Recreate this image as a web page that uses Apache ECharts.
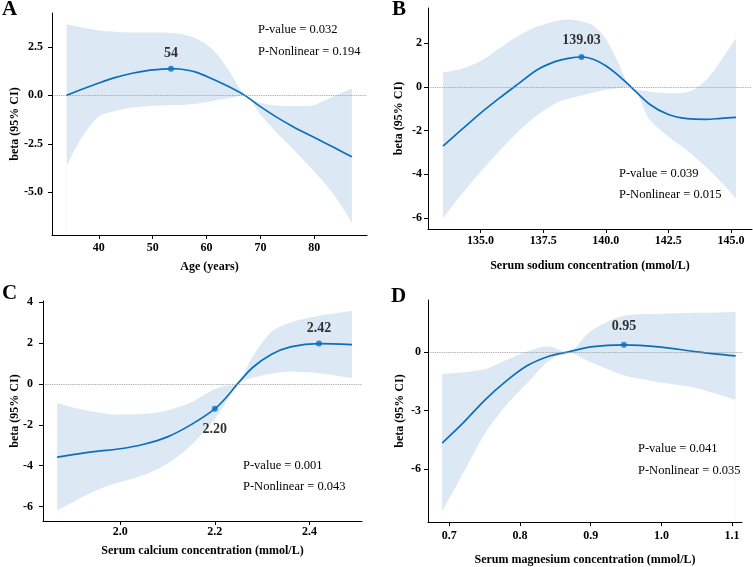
<!DOCTYPE html>
<html><head><meta charset="utf-8">
<script src="https://cdn.jsdelivr.net/npm/echarts@6/dist/echarts.min.js"></script>
<style>html,body{margin:0;padding:0;background:#fff}#c{width:753px;height:567px}</style>
</head><body><div id="c"></div>
<script>
// ---- Panel A: Age ----
const ageX   = [34, 37, 40, 43, 46, 49, 52, 53.4, 55, 58, 61, 64, 67.1, 70, 73, 76, 79, 82, 85, 87];
const ageFit = [0, 0.33, 0.64, 0.92, 1.13, 1.28, 1.36, 1.38, 1.36, 1.2, 0.86, 0.47, 0, -0.58, -1.12, -1.6, -2.03, -2.45, -2.88, -3.17];
const ageLow = [-3.66, -2.1, -1.1, -0.81, -0.64, -0.56, -0.52, -0.5, -0.49, -0.43, -0.3, -0.15, 0, -0.99, -1.91, -2.75, -3.63, -4.55, -5.68, -6.59];
const ageUp  = [3.67, 3.5, 3.35, 3.28, 3.24, 3.24, 3.24, 3.22, 3.18, 2.95, 2.4, 1.35, 0, -0.38, -0.52, -0.56, -0.55, -0.25, 0.12, 0.35];
const ageMarkX = [53.4], ageMarkY = [1.38], ageMarkLabel = ['54'];
const ageXTicks = [40, 50, 60, 70, 80];
const ageYTicks = [-5, -2.5, 0, 2.5];

// ---- Panel B: Sodium ----
const naX   = [133.5, 134.25, 135, 135.75, 136.5, 137.25, 138, 138.5, 139.03, 139.5, 140, 140.5, 141.0, 141.75, 142.5, 143.25, 144, 144.6, 145.2];
const naFit = [-2.71, -1.95, -1.2, -0.52, 0.13, 0.77, 1.16, 1.3, 1.36, 1.26, 0.96, 0.52, 0, -0.8, -1.27, -1.46, -1.49, -1.44, -1.40];
const naLow = [-6.01, -4.9, -3.88, -2.93, -2.05, -1.3, -0.75, -0.55, -0.4, -0.26, -0.15, -0.07, 0, -1.5, -2.27, -2.91, -3.65, -4.34, -5.1];
const naUp  = [0.64, 0.82, 1.18, 1.75, 2.32, 2.75, 3.0, 3.08, 3.0, 2.8, 2.2, 1.1, 0, -0.22, -0.3, -0.25, 0.3, 1.2, 2.21];
const naMarkX = [139.03], naMarkY = [1.36], naMarkLabel = ['139.03'];
const naXTicks = [135, 137.5, 140, 142.5, 145];
const naYTicks = [-6, -4, -2, 0, 2];

// ---- Panel C: Calcium ----
const caX   = [1.867, 1.9, 1.95, 2.0, 2.05, 2.1, 2.15, 2.2, 2.225, 2.248, 2.28, 2.32, 2.36, 2.42, 2.49];
const caFit = [-3.58, -3.46, -3.3, -3.17, -2.95, -2.59, -1.99, -1.22, -0.64, 0, 0.8, 1.45, 1.81, 1.97, 1.92];
const caLow = [-6.18, -5.78, -5.2, -4.8, -4.45, -3.9, -3.0, -1.7, -0.85, 0, 0.3, 0.5, 0.6, 0.52, 0.28];
const caUp  = [-0.94, -1.15, -1.38, -1.5, -1.47, -1.3, -0.9, -0.25, -0.08, 0, 1.35, 2.55, 3.0, 3.33, 3.56];
const caMarkX = [2.2, 2.42], caMarkY = [-1.22, 1.97], caMarkLabel = ['2.20', '2.42'];
const caXTicks = [2.0, 2.2, 2.4];
const caYTicks = [-6, -4, -2, 0, 2, 4];

// ---- Panel D: Magnesium ----
const mgX   = [0.69, 0.72, 0.75, 0.78, 0.81, 0.84, 0.867, 0.9, 0.947, 1.0, 1.05, 1.105];
const mgFit = [-4.67, -3.62, -2.47, -1.5, -0.7, -0.22, 0, 0.27, 0.38, 0.26, 0.02, -0.19];
const mgLow = [-8.17, -6.21, -4.2, -2.75, -1.6, -0.48, 0, -0.52, -1.18, -1.56, -1.85, -2.45];
const mgUp  = [-1.11, -1.03, -0.88, -0.42, 0.03, 0.3, 0, 1.08, 1.87, 1.97, 2.02, 2.07];
const mgMarkX = [0.947], mgMarkY = [0.38], mgMarkLabel = ['0.95'];
const mgXTicks = [0.7, 0.8, 0.9, 1.0, 1.1];
const mgYTicks = [-6, -3, 0];

const panelLetters = ['A', 'B', 'C', 'D'];
const xNames = ['Age (years)', 'Serum sodium concentration (mmol/L)', 'Serum calcium concentration (mmol/L)', 'Serum magnesium concentration (mmol/L)'];
const yName = 'beta (95% CI)';
const pValues = ['P-value = 0.032', 'P-value = 0.039', 'P-value = 0.001', 'P-value = 0.041'];
const pNonlin = ['P-Nonlinear = 0.194', 'P-Nonlinear = 0.015', 'P-Nonlinear = 0.043', 'P-Nonlinear = 0.035'];

const FONT = '"Liberation Serif","Times New Roman",serif';
const LINE = '#0c6fba';
const BAND = '#dce9f5';
const SMOOTH = 0.3;

const data = [
  {x: ageX, fit: ageFit, low: ageLow, up: ageUp, mx: ageMarkX, my: ageMarkY, ml: ageMarkLabel, xt: ageXTicks, yt: ageYTicks, xd: 0, yd: 1},
  {x: naX, fit: naFit, low: naLow, up: naUp, mx: naMarkX, my: naMarkY, ml: naMarkLabel, xt: naXTicks, yt: naYTicks, xd: 1, yd: 0},
  {x: caX, fit: caFit, low: caLow, up: caUp, mx: caMarkX, my: caMarkY, ml: caMarkLabel, xt: caXTicks, yt: caYTicks, xd: 1, yd: 0},
  {x: mgX, fit: mgFit, low: mgLow, up: mgUp, mx: mgMarkX, my: mgMarkY, ml: mgMarkLabel, xt: mgXTicks, yt: mgYTicks, xd: 1, yd: 0}
];

// layout (pixels / styles)
const layout = [
  {grid: {left: 52, top: 13, width: 315, height: 222}, xr: [31.3, 89.8], yr: [-7.2, 4.25], xm: 7, xg: 26, ym: 9, yg: 31,
   letter: [2, 10], ptxt: [258, 29.5, 51.5], labelPos: ['top'], labelDist: [5]},
  {grid: {left: 428, top: 8, width: 324, height: 221}, xr: [132.9, 145.84], yr: [-6.5, 3.6], xm: 5.5, xg: 31, ym: 6, yg: 23,
   letter: [392, 10], ptxt: [619, 173.5, 195], labelPos: ['top'], labelDist: [7]},
  {grid: {left: 43, top: 301, width: 319, height: 220}, xr: [1.837, 2.511], yr: [-6.7, 4.05], xm: 5, xg: 24, ym: 10, yg: 22,
   letter: [2, 294], ptxt: [243, 465.5, 487], labelPos: ['bottom', 'top'], labelDist: [11, 5]},
  {grid: {left: 428, top: 300, width: 314, height: 222}, xr: [0.670, 1.114], yr: [-8.72, 2.68], xm: 8, xg: 32, ym: 7, yg: 22,
   letter: [391, 297], ptxt: [638, 449, 471], labelPos: ['top'], labelDist: [8]}
];

const grids = [], xAxes = [], yAxes = [], series = [], graphics = [];

data.forEach((d, i) => {
  const L = layout[i];
  grids.push(Object.assign({containLabel: false, outerBoundsMode: 'none'}, L.grid));
  const axisCommon = {
    gridIndex: i, type: 'value', splitLine: {show: false}, z: 10,
    axisLine: {show: true, onZero: false, lineStyle: {color: '#000', width: 1}},
    nameLocation: 'middle', nameMoveOverlap: false,
    nameTextStyle: {fontFamily: FONT, fontWeight: 'bold', fontSize: 12, color: '#000'}
  };
  xAxes.push(Object.assign({}, axisCommon, {
    min: L.xr[0], max: L.xr[1], name: xNames[i], nameGap: L.xg,
    axisTick: {show: true, length: 4, inside: false, customValues: d.xt, lineStyle: {color: '#000'}},
    axisLabel: {customValues: d.xt, margin: L.xm, fontFamily: FONT, fontWeight: 'bold', fontSize: 12, color: '#000',
      formatter: v => Number(v).toFixed(d.xd)}
  }));
  yAxes.push(Object.assign({}, axisCommon, {
    min: L.yr[0], max: L.yr[1], name: yName, nameGap: L.yg,
    axisTick: {show: true, length: 4, inside: false, customValues: d.yt, lineStyle: {color: '#000'}},
    axisLabel: {customValues: d.yt, margin: L.ym, fontFamily: FONT, fontWeight: 'bold', fontSize: 12, color: '#000',
      formatter: v => Number(v).toFixed(d.yd)}
  }));
  // confidence band: upper area in band colour, lower area masked in white
  series.push({
    type: 'line', xAxisIndex: i, yAxisIndex: i, symbol: 'none', smooth: SMOOTH,
    lineStyle: {width: 0, opacity: 0}, areaStyle: {color: BAND, opacity: 1, origin: 'start'}, silent: true, z: 1,
    data: d.x.map((x, k) => [x, d.up[k]])
  });
  series.push({
    type: 'line', xAxisIndex: i, yAxisIndex: i, symbol: 'none', smooth: SMOOTH,
    lineStyle: {width: 0, opacity: 0}, areaStyle: {color: '#ffffff', opacity: 1, origin: 'start'}, silent: true, z: 1,
    data: d.x.map((x, k) => [x, d.low[k]])
  });
  series.push({
    type: 'line', xAxisIndex: i, yAxisIndex: i, symbol: 'none', smooth: SMOOTH, z: 3,
    lineStyle: {color: LINE, width: 1.7},
    data: d.x.map((x, k) => [x, d.fit[k]]),
    markLine: {silent: true, symbol: 'none', label: {show: false},
      lineStyle: {color: '#9a9a9a', type: 'dotted', width: 0.9}, data: [{yAxis: 0}]}
  });
  series.push({
    type: 'scatter', xAxisIndex: i, yAxisIndex: i, symbolSize: 6, z: 4,
    itemStyle: {color: LINE},
    data: d.mx.map((x, k) => ({
      value: [x, d.my[k]],
      label: {show: true, formatter: d.ml[k], position: L.labelPos[k], distance: L.labelDist[k],
        fontFamily: FONT, fontWeight: 'bold', fontSize: 14, color: '#000'}
    }))
  });
  graphics.push({type: 'text', z: 100, x: L.letter[0], y: L.letter[1],
    style: {text: panelLetters[i], fontFamily: FONT, fontWeight: 'bold', fontSize: 21, fill: '#000', verticalAlign: 'middle', align: 'left'}});
  graphics.push({type: 'text', z: 100, x: L.ptxt[0], y: L.ptxt[1],
    style: {text: pValues[i], fontFamily: FONT, fontSize: 12.5, fill: '#000', verticalAlign: 'middle', align: 'left'}});
  graphics.push({type: 'text', z: 100, x: L.ptxt[0], y: L.ptxt[2],
    style: {text: pNonlin[i], fontFamily: FONT, fontSize: 12.5, fill: '#000', verticalAlign: 'middle', align: 'left'}});
});

const chart = echarts.init(document.getElementById('c'), null, {renderer: 'canvas'});
chart.setOption({
  animation: false,
  backgroundColor: '#fff',
  grid: grids, xAxis: xAxes, yAxis: yAxes, series: series, graphic: graphics
});
</script></body></html>
